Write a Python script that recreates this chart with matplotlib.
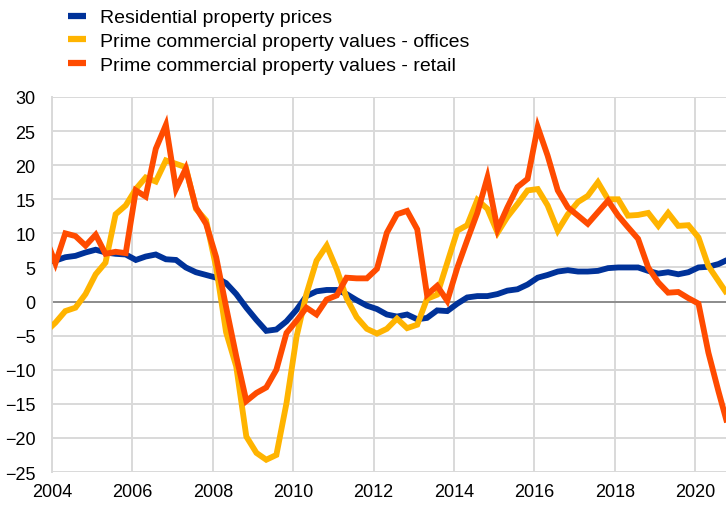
import matplotlib
matplotlib.use('Agg')
import matplotlib.pyplot as plt
import matplotlib.dates as mdates
import pandas as pd

plt.rcParams['font.family'] = ['Liberation Sans', 'DejaVu Sans']

# quarterly observations, Nov 2003 .. Nov 2020 (first and last clipped by the axis)
dates = pd.date_range('2003-11-01', periods=69, freq='3MS')

residential = [5.9, 6.0, 6.5, 6.7, 7.2, 7.6, 7.2, 7.0, 6.9, 6.1,
               6.6, 6.9, 6.2, 6.1, 5.0, 4.3, 3.9, 3.5, 2.7, 1.1,
               -0.9, -2.7, -4.3, -4.1, -2.9, -1.2, 0.8, 1.5, 1.7, 1.7,
               1.1, 0.2, -0.6, -1.1, -1.9, -2.2, -1.9, -2.6, -2.4, -1.3,
               -1.4, -0.3, 0.6, 0.8, 0.8, 1.1, 1.6, 1.8, 2.5, 3.5,
               3.9, 4.4, 4.6, 4.4, 4.4, 4.5, 4.9, 5.0, 5.0, 5.0,
               4.5, 4.1, 4.3, 4.0, 4.3, 5.0, 5.1, 5.5, 6.2]

offices = [-4.5, -3.1, -1.4, -0.9, 1.1, 4.0, 5.7, 12.8, 14.1, 16.5,
           18.2, 17.6, 20.7, 20.2, 19.7, 13.6, 11.9, 5.0, -4.5, -9.5,
           -19.8, -22.2, -23.2, -22.5, -14.9, -5.1, 1.1, 6.0, 8.2, 4.7,
           0.5, -2.3, -4.0, -4.7, -4.0, -2.5, -3.9, -3.4, 0.4, 1.0,
           5.7, 10.4, 11.2, 14.9, 13.6, 10.1, 12.4, 14.3, 16.3, 16.5,
           14.1, 10.4, 12.8, 14.6, 15.5, 17.5, 15.0, 15.0, 12.6, 12.7,
           13.0, 11.1, 13.0, 11.1, 11.2, 9.4, 5.2, 3.0, 0.8]

retail = [9.5, 5.6, 10.0, 9.6, 8.2, 9.8, 7.0, 7.3, 7.1, 16.3,
          15.4, 22.4, 25.9, 16.5, 19.5, 13.8, 11.4, 6.5, -0.8, -8.0,
          -14.6, -13.4, -12.6, -10.0, -4.6, -2.8, -0.9, -1.9, 0.3, 0.9,
          3.5, 3.4, 3.4, 4.8, 10.1, 12.8, 13.3, 10.6, 1.0, 2.3,
          0.1, 5.0, 9.0, 13.0, 18.2, 10.6, 13.8, 16.8, 18.0, 25.6,
          21.4, 16.3, 13.8, 12.6, 11.4, 13.1, 14.8, 12.6, 10.9, 9.2,
          5.0, 2.8, 1.3, 1.4, 0.5, -0.3, -7.5, -13.2, -18.6]

labels = ['Residential property prices',
          'Prime commercial property values - offices',
          'Prime commercial property values - retail']
colors = ['#003299', '#ffb400', '#ff4b00']

fig = plt.figure(figsize=(7.26, 5.06), dpi=100)
ax = fig.add_axes([52 / 726, 1 - 473 / 506, 674 / 726, 375 / 506])

for series, lab, col in zip([residential, offices, retail], labels, colors):
    ax.plot(dates, series, color=col, lw=4.2, label=lab, zorder=3,
            solid_joinstyle='miter', solid_capstyle='butt')

ax.axhline(0, color='#8c8c8c', lw=1.4, zorder=2)

ax.set_ylim(-25, 30)
ax.set_yticks(range(-25, 31, 5))
ax.set_xlim(pd.Timestamp('2004-01-01'), pd.Timestamp('2020-10-08'))
ax.xaxis.set_major_locator(mdates.YearLocator(2))
ax.xaxis.set_major_formatter(mdates.DateFormatter('%Y'))

ax.grid(True, color='#d9d9d9', lw=1.4, zorder=0)
for s in ['top', 'right', 'bottom']:
    ax.spines[s].set_visible(False)
ax.spines['left'].set_color('#d9d9d9')
ax.spines['left'].set_linewidth(1.4)
ax.tick_params(length=0, labelsize=13, colors='#000000')
ax.tick_params(axis='y', pad=12)
ax.tick_params(axis='x', pad=8)

leg = fig.legend(loc='upper left', bbox_to_anchor=(60 / 726, 1 - 2 / 506),
                 frameon=False, fontsize=14, handlelength=0.95,
                 handletextpad=0.7, labelspacing=0.32, borderaxespad=0)
for h in leg.get_lines():
    h.set_linewidth(4.5)

fig.savefig('out.png', dpi=100)
